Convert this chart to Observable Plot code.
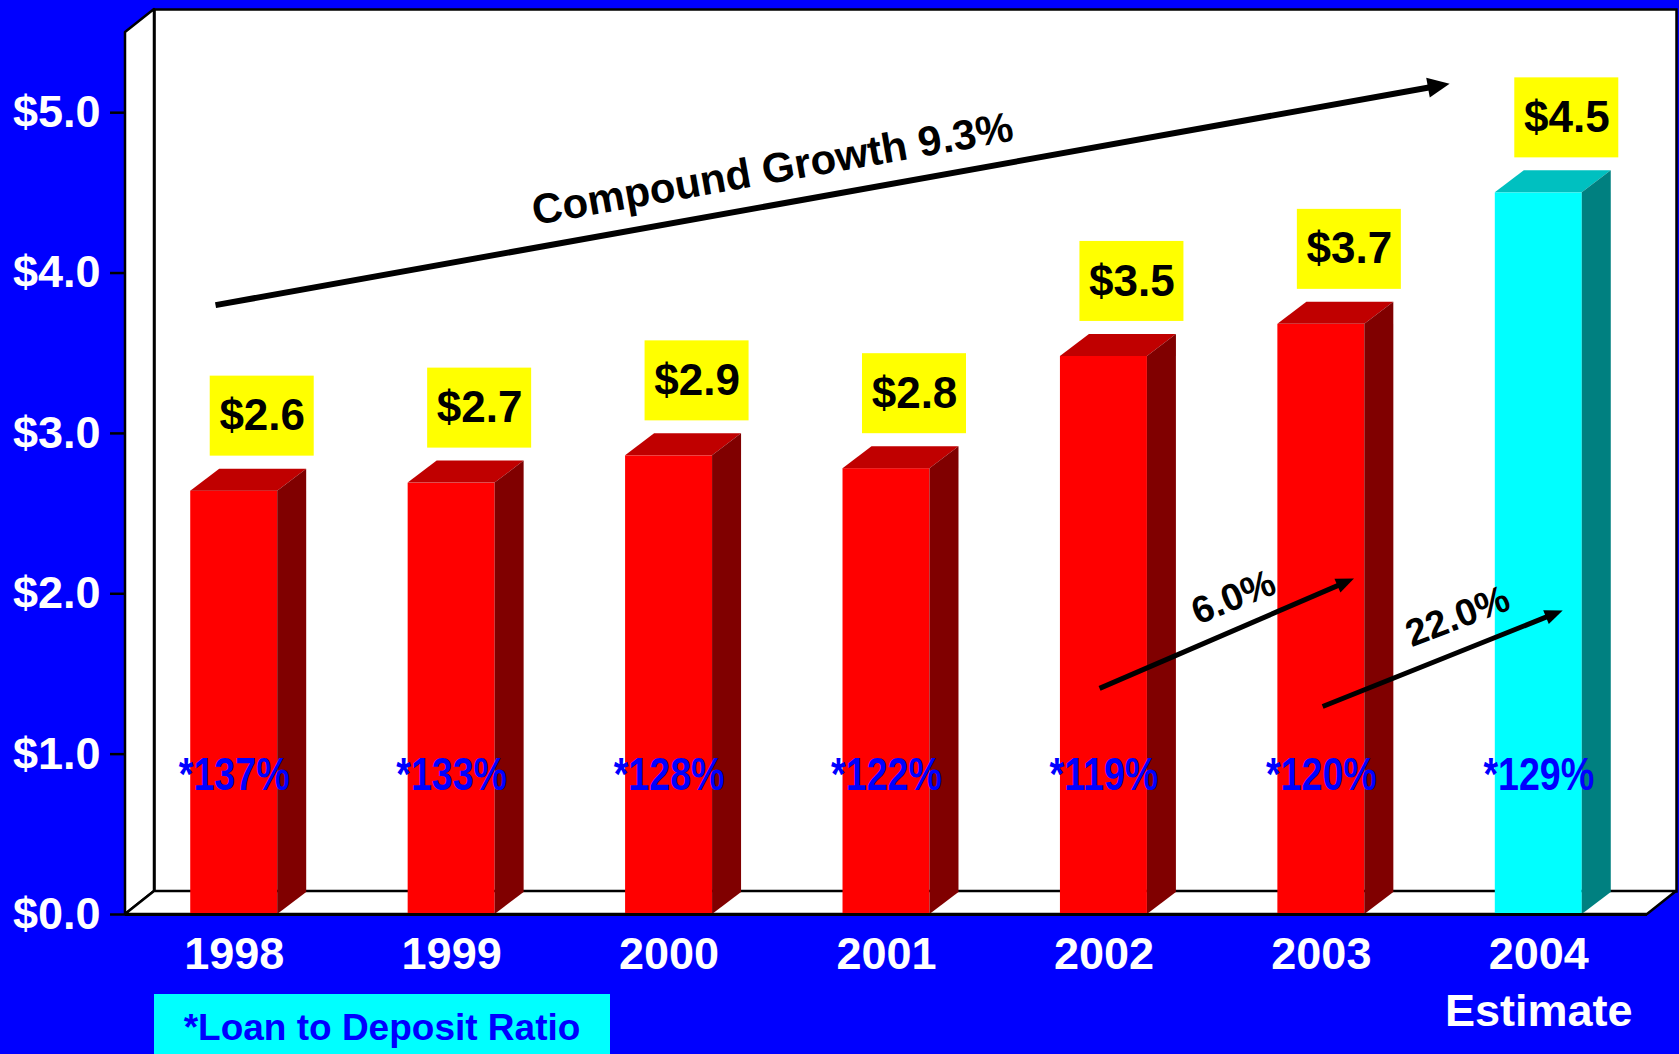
<!DOCTYPE html>
<html>
<head>
<meta charset="utf-8">
<script src="https://cdn.jsdelivr.net/npm/d3@7"></script>
<script src="https://cdn.jsdelivr.net/npm/@observablehq/plot@0.6"></script>
<style>
  html, body { margin: 0; padding: 0; background: #0000FF; overflow: hidden; }
  #wrap { position: relative; width: 1679px; height: 1054px; }
  #note {
    position: absolute; left: 154px; top: 994px; width: 456px; height: 60px;
    background: #00FFFF; color: #0000FF; text-align: center;
    font: bold 37px "Liberation Sans", Arial, sans-serif; line-height: 67px; overflow: hidden;
  }
</style>
</head>
<body>
<div id="wrap"><div id="chart"></div><div id="note">*Loan to Deposit Ratio</div></div>
<script>
// ---- data ----
const years = ["1998", "1999", "2000", "2001", "2002", "2003", "2004"];
const subLabels = ["", "", "", "", "", "", "Estimate"];
const deposits = [2.64, 2.69, 2.86, 2.78, 3.48, 3.68, 4.50];   // $ billions
const loanToDeposit = [137, 133, 128, 122, 119, 120, 129];      // %
const isEstimate = [false, false, false, false, false, false, true];
const yTicks = [0, 1, 2, 3, 4, 5];
const compoundLabel = "Compound Growth 9.3%";
const stepLabels = ["6.0%", "22.0%"];

// ---- layout / style constants ----
const W = 1679, H = 1054, ML = 125, MR = 32, MT = 32, MB = 140;
const XMAX = years.length, YMAX = 5.5;
const kx = (W - ML - MR) / XMAX, ky = (H - MT - MB) / YMAX;
const wdx = 29 / kx, wdy = 23 / ky;   // wall depth in data units
const bdx = 29 / kx, bdy = 22 / ky;   // bar depth in data units
const RED = {front: "#FF0000", top: "#C00000", side: "#800000"};
const CYAN = {front: "#00FFFF", top: "#00C0C0", side: "#008080"};
const FONT = "'Liberation Sans', Arial, Helvetica, sans-serif";

const rows = years.map((y, i) => ({
  i, year: y,
  label: subLabels[i] ? y + "\n" + subLabels[i] : y,
  v: deposits[i], r: loanToDeposit[i],
  pal: isEstimate[i] ? CYAN : RED
}));

const sideWall = [{x: 0, y1: 0, y2: YMAX}, {x: wdx, y1: wdy, y2: YMAX + wdy}];
const floor = [
  {x: 0, y1: 0, y2: 0},
  {x: wdx, y1: 0, y2: wdy},
  {x: XMAX, y1: 0, y2: wdy},
  {x: XMAX + wdx, y1: wdy, y2: wdy}
];
const topFaces = rows.flatMap(d => {
  const a = d.i + 0.3, b = d.i + 0.7, v = d.v;
  return [
    {z: d.i, c: d.pal.top, x: a, y1: v, y2: v},
    {z: d.i, c: d.pal.top, x: a + bdx, y1: v, y2: v + bdy},
    {z: d.i, c: d.pal.top, x: b, y1: v, y2: v + bdy},
    {z: d.i, c: d.pal.top, x: b + bdx, y1: v + bdy, y2: v + bdy}
  ];
});
const sideFaces = rows.flatMap(d => {
  const b = d.i + 0.7, v = d.v;
  return [
    {z: d.i, c: d.pal.side, x: b, y1: 0, y2: v},
    {z: d.i, c: d.pal.side, x: b + bdx, y1: bdy, y2: v + bdy}
  ];
});

// annotation arrows (data coordinates) and labels
const arrows = [
  {x1: 0.414, y1: 3.80, x2: 6.09, y2: 5.18, w: 6, L: 22, hw: 20},
  {x1: 4.48, y1: 1.41, x2: 5.65, y2: 2.095, w: 5, L: 18, hw: 15},
  {x1: 5.506, y1: 1.297, x2: 6.61, y2: 1.896, w: 5, L: 18, hw: 15}
];
arrows.forEach(a => {
  a.angle = Math.atan2((a.y2 - a.y1) * ky, (a.x2 - a.x1) * kx);
});
function headSymbol(theta, L, hw) {
  return {
    draw(ctx) {
      const ux = Math.cos(theta), uy = -Math.sin(theta);
      const nx = Math.sin(theta), ny = Math.cos(theta);
      const bx = -L * ux, by = -L * uy;
      ctx.moveTo(0, 0);
      ctx.lineTo(bx + nx * hw / 2, by + ny * hw / 2);
      ctx.lineTo(bx - nx * hw / 2, by - ny * hw / 2);
      ctx.closePath();
    }
  };
}

const ratioText = d => "*" + d.r + "%";

const chart = Plot.plot({
  width: W, height: H,
  marginLeft: ML, marginRight: MR, marginTop: MT, marginBottom: MB,
  x: {domain: [0, XMAX], axis: null},
  y: {domain: [0, YMAX], axis: null},
  color: {type: "identity"},
  style: {background: "transparent", fontFamily: FONT, fontWeight: "bold", overflow: "visible"},
  marks: [
    // walls and floor
    Plot.frame({fill: "white", stroke: "black", strokeWidth: 2.5, dx: 29, dy: -23}),
    Plot.areaY(sideWall, {x: "x", y1: "y1", y2: "y2", fill: "white", stroke: "black", strokeWidth: 2.5}),
    Plot.areaY(floor, {x: "x", y1: "y1", y2: "y2", fill: "white", stroke: "black", strokeWidth: 2.5}),
    // y axis ticks + labels
    Plot.axisY({ticks: yTicks, tickFormat: d3.format("$.1f"), tickSize: 15, tickPadding: 10,
      fontSize: 45, fill: "white", stroke: "black", strokeWidth: 2.5}),
    // 3D bars
    Plot.rectY(rows, {x1: d => d.i + 0.3, x2: d => d.i + 0.7, y1: 0, y2: "v", fill: d => d.pal.front}),
    Plot.areaY(topFaces, {x: "x", y1: "y1", y2: "y2", z: "z", fill: "c"}),
    Plot.areaY(sideFaces, {x: "x", y1: "y1", y2: "y2", z: "z", fill: "c"}),
    Plot.ruleY([0], {stroke: "black", strokeWidth: 3}),
    // value boxes
    Plot.rect(rows, {x1: d => d.i + 0.5, x2: d => d.i + 0.5, y1: "v", y2: "v",
      insetLeft: -52, insetRight: -52, insetTop: -115, insetBottom: 35, dx: 28, fill: "#FFFF00"}),
    Plot.text(rows, {x: d => d.i + 0.5, y: "v", text: d => d3.format("$.1f")(d.v),
      dx: 28, dy: -75, fontSize: 44, fill: "black", lineAnchor: "middle"}),
    // loan to deposit ratio labels
    Plot.text(rows, {x: d => d.i + 0.5, y: 0.776, text: ratioText,
      fontSize: 47, fill: "#0000FF", lineAnchor: "bottom"}),
    // year labels
    Plot.text(rows, {x: d => d.i + 0.5, y: 0, text: "label", dy: 14, lineAnchor: "top",
      fontSize: 45, fill: "white", lineHeight: 1.27}),
    // growth arrows
    Plot.arrow(arrows, {x1: "x1", y1: "y1", x2: "x2", y2: "y2", stroke: "black",
      strokeWidth: d => d.w, headLength: 0, insetEnd: 14, strokeLinecap: "butt"}),
    ...arrows.map(a => Plot.dot([a], {x: "x2", y: "y2", fill: "black", stroke: "none",
      symbol: headSymbol(a.angle, a.L, a.hw)})),
    Plot.text([compoundLabel], {x: 2.976, y: 4.646, text: d => d, rotate: -10,
      fontSize: 42, fill: "black", lineAnchor: "middle"}),
    Plot.text([stepLabels[0]], {x: 5.096, y: 1.977, text: d => d, rotate: -22,
      fontSize: 38, fill: "black", lineAnchor: "middle"}),
    Plot.text([stepLabels[1]], {x: 6.127, y: 1.858, text: d => d, rotate: -21,
      fontSize: 38, fill: "black", lineAnchor: "middle"})
  ]
});

// condense the ratio labels horizontally (narrow bold face in the original)
const ratioSet = new Set(rows.map(ratioText));
chart.querySelectorAll("text").forEach(t => {
  if (!ratioSet.has(t.textContent)) return;
  let tr = t.getAttribute("transform") || "";
  const x = t.getAttribute("x"), y = t.getAttribute("y");
  if (x != null || y != null) {
    tr += ` translate(${x || 0},${y || 0})`;
    t.removeAttribute("x"); t.removeAttribute("y");
  }
  t.setAttribute("transform", tr + " scale(0.8,1)");
});

document.getElementById("chart").appendChild(chart);
</script>
</body>
</html>
